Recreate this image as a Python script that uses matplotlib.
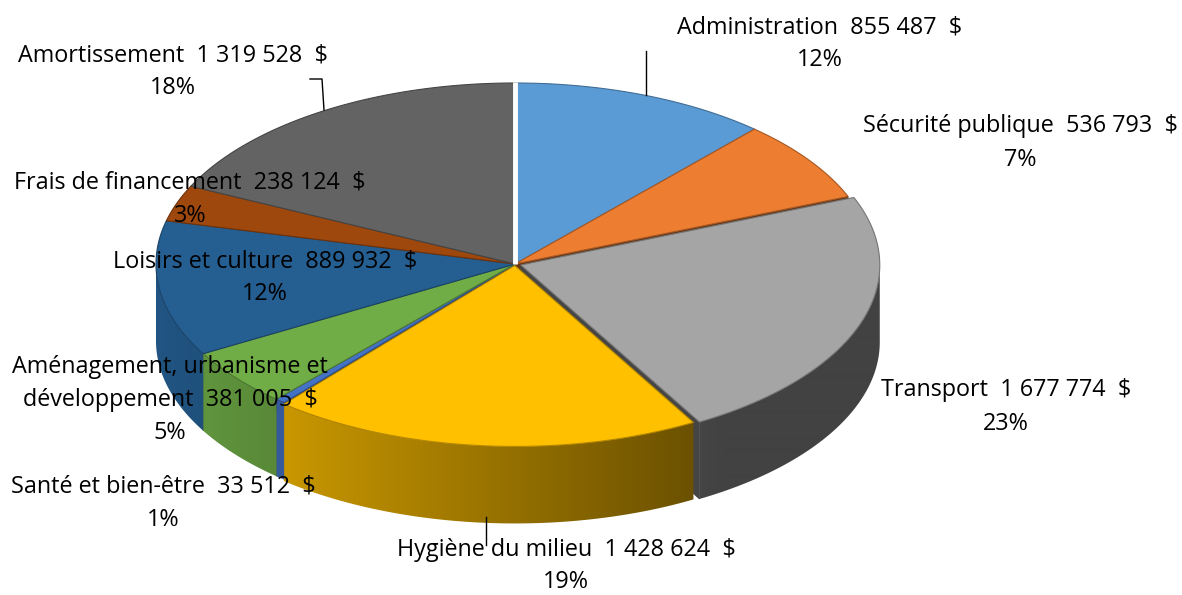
import numpy as np
import matplotlib.pyplot as plt
from matplotlib.patches import Polygon
import matplotlib.colors as mcolors

plt.rcParams['font.family'] = ['Open Sans', 'DejaVu Sans']

# data
categories = ["Administration", "Sécurité publique", "Transport", "Hygiène du milieu",
              "Santé et bien-être", "Aménagement, urbanisme et\ndéveloppement",
              "Loisirs et culture", "Frais de financement", "Amortissement"]
amounts = [855487, 536793, 1677774, 1428624, 33512, 381005, 889932, 238124, 1319528]
amount_labels = ["855 487", "536 793", "1 677 774", "1 428 624", "33 512",
                 "381 005", "889 932", "238 124", "1 319 528"]
pct_labels = ["12%", "7%", "23%", "19%", "1%", "5%", "12%", "3%", "18%"]
colors = ["#5B9BD5", "#ED7D31", "#A5A5A5", "#FFC000", "#4472C4",
          "#70AD47", "#255E91", "#9E480E", "#636363"]
explode = [0, 0, 0.017, 0.008, 0, 0, 0, 0, 0]

# label layout (pixel centres of each label block)
label_pos = [(820, 44), (1020, 143), (1006, 407), (566, 566), (163, 503),
             (170, 400), (265, 278), (190, 199), (173, 72)]
leaders = [[(310, 79), (322, 79), (324, 110)],
           [(646, 51), (646, 95)],
           [(486, 517), (486, 545)]]

cx, cy, rx, ry, depth = 515, 264, 359, 181, 77
W, H = 1182, 595

fig = plt.figure(figsize=(11.82, 5.95), dpi=100)
ax = fig.add_axes([0, 0, 1, 1])
ax.set_xlim(0, W)
ax.set_ylim(H, 0)
ax.axis('off')

fracs = np.array(amounts) / sum(amounts)
bounds = 90 - 360 * np.concatenate([[0], np.cumsum(fracs)])


def shade(c, f):
    r, g, b = mcolors.to_rgb(c)
    return (r * f, g * f, b * f)


def rim(t, ox, oy):
    t = np.radians(t)
    return np.column_stack([cx + ox + rx * np.cos(t), cy + oy - ry * np.sin(t)])


slices = []
for i in range(len(amounts)):
    a0, a1 = bounds[i], bounds[i + 1]
    mid = np.radians((a0 + a1) / 2)
    ox = explode[i] * rx * np.cos(mid)
    oy = -explode[i] * ry * np.sin(mid)
    slices.append((a0, a1, ox, oy))

# radial (cut) walls
for i, (a0, a1, ox, oy) in enumerate(slices):
    apex = np.array([cx + ox, cy + oy])
    for a, vis in ((a0, np.cos(np.radians(a0)) < 0), (a1, np.cos(np.radians(a1)) > 0)):
        if not vis:
            continue
        p = rim(np.array([a]), ox, oy)[0]
        quad = [apex, p, p + [0, depth], apex + [0, depth]]
        ax.add_patch(Polygon(quad, closed=True, fc=shade(colors[i], 0.42),
                             ec=shade(colors[i], 0.42), lw=0.5, zorder=1))

# outer walls: front part of the arc, filled with a horizontal light gradient
xs = np.arange(W) + 0.5
for i, (a0, a1, ox, oy) in enumerate(slices):
    lo, hi = min(a0, a1), max(a0, a1)
    ts = np.linspace(lo, hi, 600)
    front = np.sin(np.radians(ts)) < 0
    if not front.any():
        continue
    ts = ts[front]
    top_pts = rim(ts, ox, oy)
    wall = np.vstack([top_pts, top_pts[::-1] + [0, depth]])
    c = np.clip((xs - cx - ox) / rx, -1, 1)
    f = np.maximum(0.4, 0.58 - 0.32 * c)
    base = np.array(mcolors.to_rgb(colors[i]))
    img = (f[:, None] * base[None, :])[None, :, :]
    clip = Polygon(wall, closed=True, fc='none', ec='none', transform=ax.transData)
    ax.add_patch(clip)
    im = ax.imshow(img, extent=(0, W, H, 0), aspect='auto', zorder=2, interpolation='bilinear')
    im.set_clip_path(clip)

# top faces
for i, (a0, a1, ox, oy) in enumerate(slices):
    ts = np.linspace(a0, a1, max(3, int(abs(a0 - a1) * 2)))
    pts = np.vstack([[cx + ox, cy + oy], rim(ts, ox, oy)])
    ax.add_patch(Polygon(pts, closed=True, fc=colors[i], ec=shade(colors[i], 0.7),
                         lw=0.8, zorder=3))

ax.set_xlim(0, W)
ax.set_ylim(H, 0)

# white gap at the 12 o'clock boundary
top = rim(np.array([90.0]), 0, 0)[0]
ax.plot([cx, top[0]], [cy, top[1] - 1], color='white', lw=3.5,
        solid_capstyle='butt', zorder=4)

for pts in leaders:
    lx, ly = zip(*pts)
    ax.plot(lx, ly, color='black', lw=1, zorder=4)

for i, (x, y) in enumerate(label_pos):
    lines = (categories[i] + "  " + amount_labels[i] + "  $").split("\n") + [pct_labels[i]]
    n = len(lines)
    for k, line in enumerate(lines):
        ax.text(x, y + (k - (n - 1) / 2) * 33, line, ha='center', va='center',
                fontsize=16.8, color='black', zorder=5)

fig.savefig("out.png", dpi=100)
